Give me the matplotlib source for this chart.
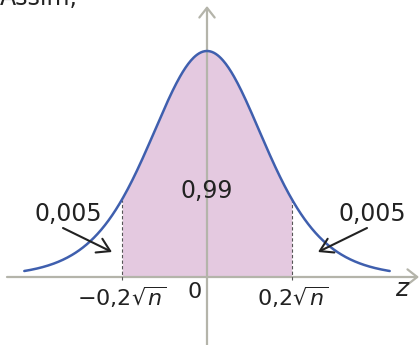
import matplotlib.pyplot as plt
import numpy as np

# curve parameters (z in units of the curve's spread)
z_end = 3.15          # where the drawn curve stops
z_bound = 1.47        # position of the +/-0.2*sqrt(n) bounds
tail_df = 8           # slightly heavy tails, like the drawing
prob_center = "0,99"
prob_tail = "0,005"
tick_labels = [r"$-0{,}2\sqrt{n}$", "0", r"$0{,}2\sqrt{n}$"]

# pixel -> data helpers (chart is 420x345 px, origin at (207, 277), 58 px per z unit, peak 226 px tall)
def px(x):
    return (x - 207) / 58

def py(y):
    return (277 - y) / 226

plt.rcParams['font.family'] = ['DejaVu Sans']
plt.rcParams['mathtext.fontset'] = 'dejavusans'

fig = plt.figure(figsize=(4.2, 3.45), dpi=100)
ax = fig.add_axes([0, 0, 1, 1])
ax.set_xlim(px(0), px(420))
ax.set_ylim(py(345), py(0))
ax.axis('off')

z = np.linspace(-z_end, z_end, 400)
f = (1 + z**2 / tail_df) ** (-(tail_df + 1) / 2)

mask = np.abs(z) <= z_bound
ax.fill_between(z[mask], 0, f[mask], color='#e4c9e0', lw=0, zorder=1)

axis_col = '#b4b4aa'
# x axis
ax.annotate('', xy=(px(419), 0), xytext=(px(7), 0),
            arrowprops=dict(arrowstyle='->, head_length=0.7, head_width=0.55',
                            color=axis_col, lw=1.6, mutation_scale=10, shrinkA=0, shrinkB=0),
            zorder=2)
# y axis
ax.annotate('', xy=(0, py(6)), xytext=(0, py(346)),
            arrowprops=dict(arrowstyle='->, head_length=0.7, head_width=0.55',
                            color=axis_col, lw=1.6, mutation_scale=10, shrinkA=0, shrinkB=0),
            zorder=2)

ax.plot(z, f, color='#3f5fae', lw=1.8, zorder=3, solid_capstyle='round')

fb = (1 + z_bound**2 / tail_df) ** (-(tail_df + 1) / 2)
for s in (-1, 1):
    ax.plot([s * z_bound, s * z_bound], [py(280), fb], color='#555555', lw=0.8,
            ls=(0, (3, 2)), zorder=2)

fs = 17
tc = '#222222'
ax.text(0, py(191), prob_center, ha='center', va='center', fontsize=fs, color=tc, zorder=4)
ax.text(px(68), py(214), prob_tail, ha='center', va='center', fontsize=fs, color=tc)
ax.text(px(372), py(214), prob_tail, ha='center', va='center', fontsize=fs, color=tc)

arrow_kw = dict(arrowstyle='->, head_length=0.9, head_width=0.55', color=tc, lw=1.5,
                mutation_scale=10, shrinkA=0, shrinkB=0)
ax.annotate('', xy=(px(112), py(252)), xytext=(px(63), py(228)), arrowprops=arrow_kw)
ax.annotate('', xy=(px(318), py(252)), xytext=(px(367), py(228)), arrowprops=arrow_kw)

ax.text(-z_bound, py(297), tick_labels[0], ha='center', va='center', fontsize=16, color=tc)
ax.text(px(195), py(292), tick_labels[1], ha='center', va='center', fontsize=16, color=tc)
ax.text(z_bound, py(297), tick_labels[2], ha='center', va='center', fontsize=16, color=tc)
ax.text(px(403), py(289), r"$z$", ha='center', va='center', fontsize=18, color=tc)

ax.text(px(0), py(5), "Assim,", ha='left', va='baseline', fontsize=17, color=tc)

fig.savefig('out.png', dpi=100)
